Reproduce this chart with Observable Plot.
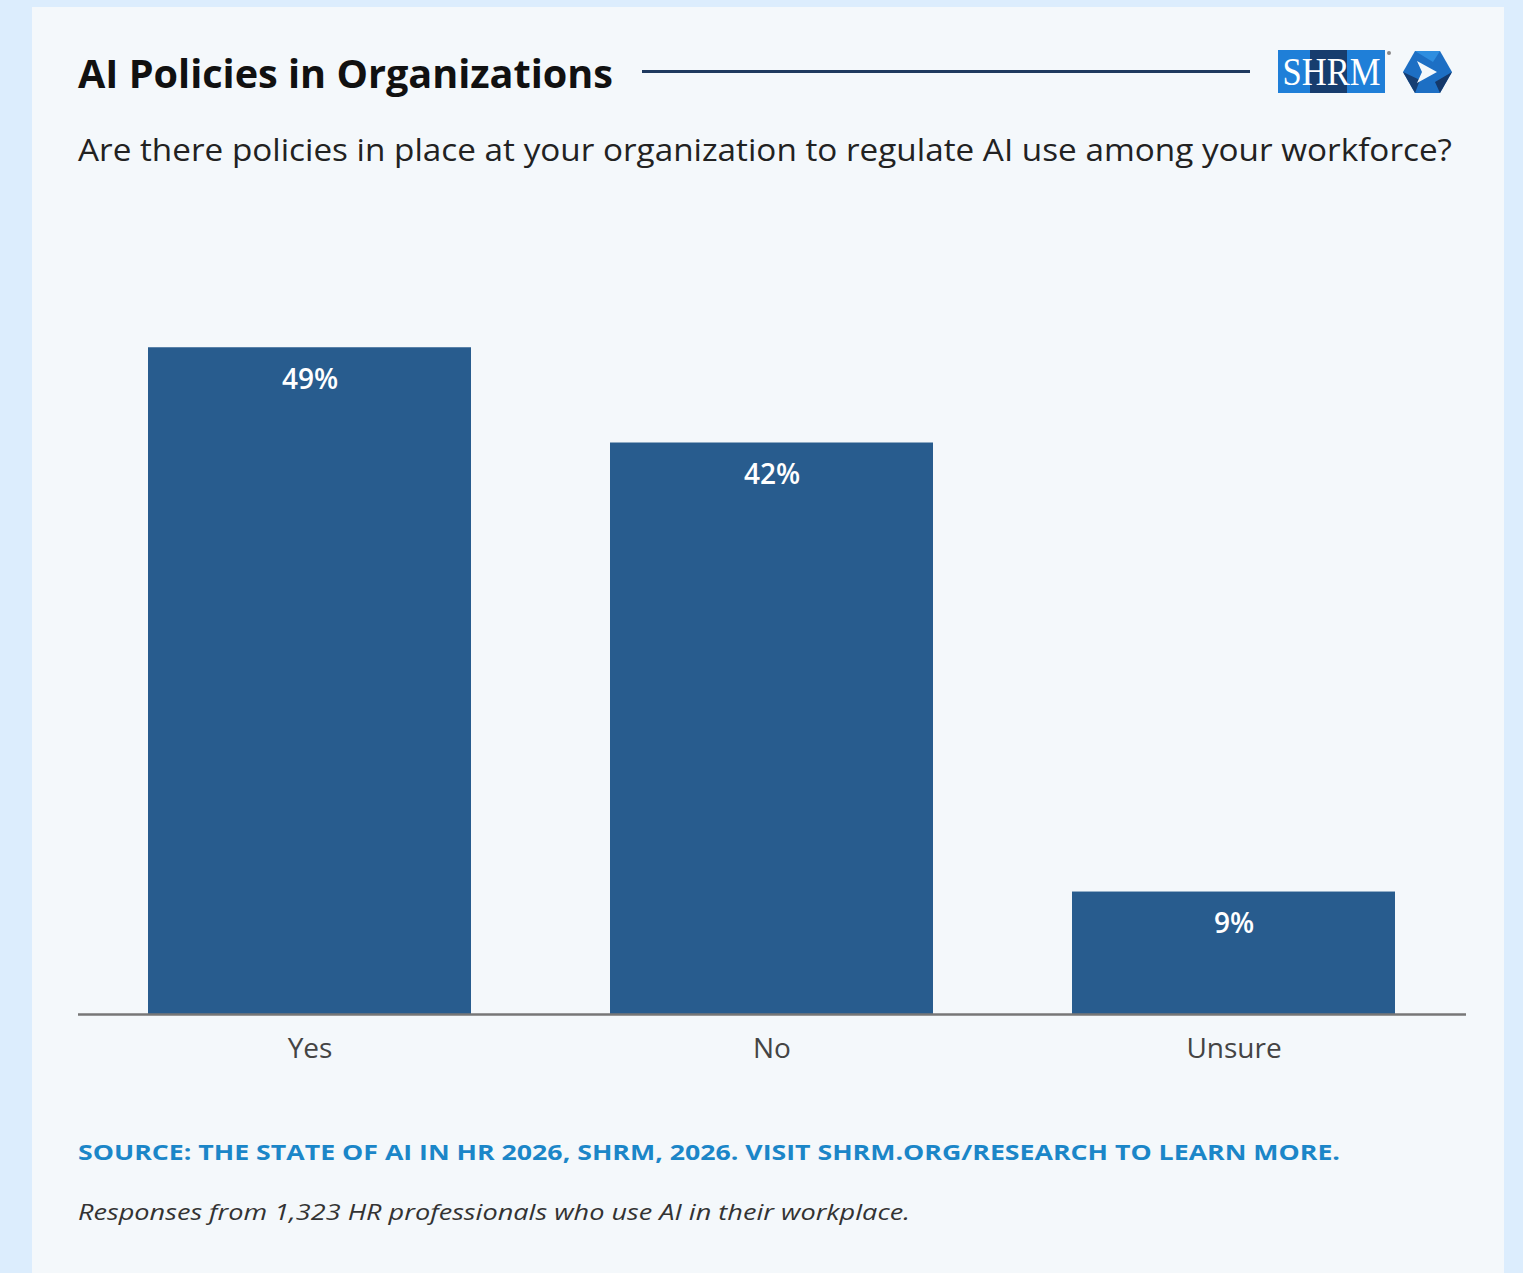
<!DOCTYPE html>
<html>
<head>
<meta charset="utf-8">
<script src="https://cdn.jsdelivr.net/npm/d3@7"></script>
<script src="https://cdn.jsdelivr.net/npm/@observablehq/plot@0.6"></script>
<style>
  html, body { margin: 0; padding: 0; }
  body { width: 1523px; height: 1273px; background: #dcedfd; position: relative; overflow: hidden; font-family: "Open Sans", Lato, sans-serif; }
  #card { position: absolute; left: 32px; top: 7px; width: 1472px; height: 1266px; background: #f4f8fb; }
  #rule { position: absolute; left: 642px; top: 70px; width: 608px; height: 3px; background: #1f3a5f; }
  #chart { position: absolute; left: 0; top: 200px; }
  #logo { position: absolute; left: 1270px; top: 44px; }
  #texts { position: absolute; left: 0; top: 0; }
</style>
</head>
<body>
<div id="card"></div>
<div id="rule"></div>
<svg id="logo" width="200" height="60" viewBox="0 0 200 60">
  <rect x="8" y="6" width="107" height="43" fill="#1f7fd8"/>
  <rect x="40" y="6" width="37" height="43" fill="#173d6e"/>
  <text x="61.5" y="41" text-anchor="middle" font-family="Liberation Serif, serif" font-size="40" fill="#fff" textLength="98" lengthAdjust="spacingAndGlyphs">SHRM</text>
  <circle cx="119" cy="9" r="2" fill="#888"/>
  <polygon points="133,28 145,7 170,7 182,28 170,49 145,49" fill="#1d6fc4"/>
  <polygon points="145,7 170,7 163,18" fill="#2e8ee0"/>
  <polygon points="133,28 145,49 150,36" fill="#163e72"/>
  <polygon points="170,49 182,28 165,38" fill="#14386a"/>
  <polygon points="147,17 167,28 147,39 152,28" fill="#f4f8fb"/>
</svg>
<div id="chart"></div>
<svg id="texts" width="1523" height="1273" style="pointer-events:none">
  <g font-family="'Open Sans', Lato, sans-serif">
    <text x="78" y="88" font-size="40" font-weight="700" fill="#111" textLength="535" lengthAdjust="spacingAndGlyphs">AI Policies in Organizations</text>
    <text x="78" y="161" font-size="31" fill="#222" textLength="1374" lengthAdjust="spacingAndGlyphs">Are there policies in place at your organization to regulate AI use among your workforce?</text>
    <text x="78" y="1160" font-size="21.5" font-weight="700" fill="#1b86c8" textLength="1262" lengthAdjust="spacingAndGlyphs">SOURCE: THE STATE OF AI IN HR 2026, SHRM, 2026. VISIT SHRM.ORG/RESEARCH TO LEARN MORE.</text>
    <text x="78" y="1220" font-size="21" font-style="italic" fill="#333" textLength="832" lengthAdjust="spacingAndGlyphs">Responses from 1,323 HR professionals who use AI in their workplace.</text>
  </g>
</svg>
<script>
const categories = ["Yes", "No", "Unsure"];
const values = [49, 42, 9];
const labels = ["49%", "42%", "9%"];

const data = categories.map((c, i) => ({category: c, value: values[i], label: labels[i]}));

const chart = Plot.plot({
  width: 1523,
  height: 874,
  marginLeft: 78,
  marginRight: 57,
  marginTop: 52,
  marginBottom: 60,
  style: {background: "transparent", fontFamily: "'Open Sans', Lato, sans-serif"},
  x: {domain: categories, paddingInner: 0.3, paddingOuter: 0.15, label: null, tickSize: 0, tickPadding: 24},
  y: {domain: [0, 56], axis: null},
  marks: [
    Plot.barY(data, {x: "category", y: "value", fill: "#285c8e"}),
    Plot.text(data, {x: "category", y: "value", text: "label", dy: 32, fill: "#fff", fontSize: 28, fontWeight: 600}),
    Plot.ruleY([0], {stroke: "#777", strokeWidth: 2.5})
  ]
});
const xa = chart.querySelector("[aria-label='x-axis tick label']");
if (xa) { xa.setAttribute("font-size", "28"); xa.setAttribute("fill", "#444"); }
document.getElementById("chart").appendChild(chart);
</script>
</body>
</html>
